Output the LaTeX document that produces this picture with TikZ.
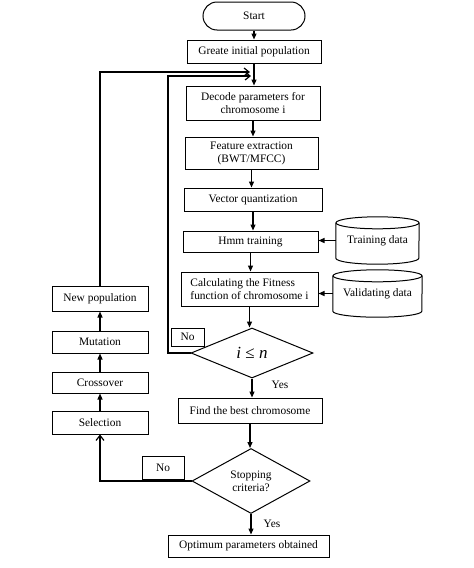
\documentclass[tikz,border=0pt]{standalone}
\usepackage{fontspec}
\setmainfont{Liberation Serif}
\usetikzlibrary{shapes.geometric,arrows.meta,calc}
\newcommand\dfont{\fontsize{11.4}{13}\selectfont}
\begin{document}
\begin{tikzpicture}[x=1pt,y=1pt,yscale=-1,
  box/.style={draw,line width=1pt,inner sep=1pt,align=center,font=\dfont},
  term/.style={box,rounded corners=14pt,minimum width=102pt,minimum height=28pt},
  dia/.style={draw,diamond,line width=1pt,inner sep=0pt,align=center,font=\dfont},
  lbox/.style={box,minimum width=96pt},
  lbl/.style={inner sep=1pt,font=\dfont},
  cyltext/.style={inner sep=0pt,font=\dfont},
  arr/.style={line width=1.2pt,-{Triangle[length=6pt,width=5pt]}},
  open/.style={line width=1.2pt,-{Straight Barb[length=5pt,width=8pt]}},
  cylline/.style={line width=1pt}]
\useasboundingbox (0,0) rectangle (474,568);

% main column
\node[term] (start) at (254,16) {Start};
\node[box,minimum width=134pt,minimum height=23pt] (init) at (254,51.5) {Greate initial population};
\node[box,minimum width=134pt,minimum height=34pt] (decode) at (253,103) {Decode parameters for\\chromosome i};
\node[box,minimum width=133pt,minimum height=32pt] (feat) at (251.5,153) {Feature extraction\\(BWT/MFCC)};
\node[box,minimum width=138pt,minimum height=23pt] (vq) at (253,199.5) {Vector quantization};
\node[box,minimum width=135pt,minimum height=21pt] (hmm) at (250.5,241.5) {Hmm training};
\node[box,minimum width=137pt,minimum height=34pt,align=left] (calc) at (249.5,289) {Calculating the Fitness\\function of chromosome i};
\node[dia,minimum width=122pt,minimum height=50pt] (iln) at (252,353) {\fontsize{17}{19}\selectfont\textit{i} ≤ \textit{n}};
\node[box,minimum width=144pt,minimum height=25pt] (best) at (250,410.5) {Find the best chromosome};
\node[dia,minimum width=118pt,minimum height=65pt] (stop) at (251,481) {Stopping\\criteria?};
\node[box,minimum width=161pt,minimum height=22pt] (opt) at (248.5,546) {Optimum parameters obtained};

% left column
\node[lbox,minimum height=25pt] (newpop) at (100,298.5) {New population};
\node[lbox,minimum height=22pt] (mut) at (100,342) {Mutation};
\node[lbox,minimum height=21pt] (cross) at (100,382.5) {Crossover};
\node[lbox,minimum height=23pt] (sel) at (100,422.5) {Selection};

% labels
\node[box,minimum width=33pt,minimum height=18pt] (no1) at (187.5,337) {No};
\node[box,minimum width=42pt,minimum height=23pt] (no2) at (163,467.5) {No};
\node[lbl] (yes1) at (280,385) {Yes};
\node[lbl] (yes2) at (272,524) {Yes};

% cylinders
\node[cyltext,minimum width=83pt,minimum height=47pt] (train) at (377.5,240.5) {Training data};
\draw[cylline] ($(train.north west)+(0,6)$) -- ($(train.south west)+(0,-6)$)
  arc[start angle=180,end angle=0,x radius=41.5,y radius=6] -- ($(train.north east)+(0,6)$);
\draw[cylline] ($(train.north)+(0,6)$) ellipse[x radius=41.5,y radius=6];

\node[cyltext,minimum width=89pt,minimum height=47pt] (valid) at (377.5,293.5) {Validating data};
\draw[cylline] ($(valid.north west)+(0,6)$) -- ($(valid.south west)+(0,-6)$)
  arc[start angle=180,end angle=0,x radius=44.5,y radius=6] -- ($(valid.north east)+(0,6)$);
\draw[cylline] ($(valid.north)+(0,6)$) ellipse[x radius=44.5,y radius=6];

% main arrows
\draw[arr] (start.south) -- (start.south |- init.north);
\draw[arr] (init.south) -- (init.south |- decode.north);
\draw[arr] (decode.south) -- (decode.south |- feat.north);
\draw[arr] (feat.south) -- (feat.south |- vq.north);
\draw[arr] (vq.south) -- (vq.south |- hmm.north);
\draw[arr] (hmm.south) -- (hmm.south |- calc.north);
\draw[arr] (calc.south) -- (calc.south |- iln.north);
\draw[arr] (iln.south) -- (iln.south |- best.north);
\draw[arr] (best.south) -- (best.south |- stop.north);
\draw[arr] (stop.south) -- (stop.south |- opt.north);

\draw[arr] (train.west) -- (train.west -| hmm.east);
\draw[arr] (valid.west) -- (valid.west -| calc.east);

% left column arrows
\draw[arr] (sel.north) -- (cross.south);
\draw[arr] (cross.north) -- (mut.south);
\draw[arr] (mut.north) -- (newpop.south);

% loops
\coordinate (o1) at (100,72);
\coordinate (o2) at (250,72);
\draw[open] (newpop.north) -- (o1) -- (o2);
\coordinate (i1) at (168,353);
\coordinate (i2) at (168,76);
\coordinate (i3) at (251,76);
\draw[open] (iln.west) -- (i1) -- (i2) -- (i3);
\draw[open] (stop.west) -| (sel.south);
\end{tikzpicture}
\end{document}
